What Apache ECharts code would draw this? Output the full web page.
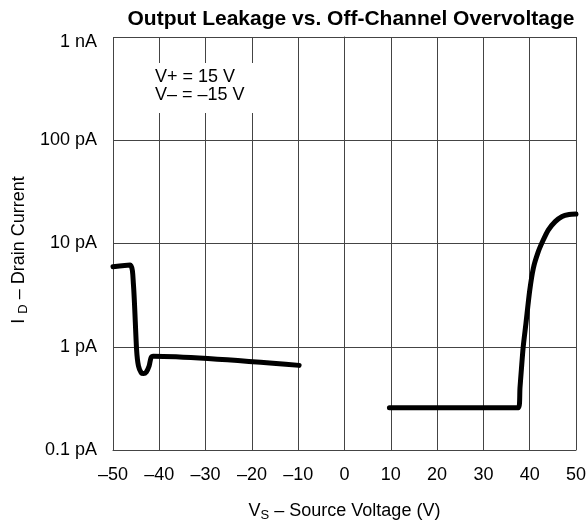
<!DOCTYPE html>
<html>
<head>
<meta charset="utf-8">
<script src="https://cdn.jsdelivr.net/npm/echarts@6/dist/echarts.min.js"></script>
<style>
  html, body { margin: 0; padding: 0; background: #fff; }
  #chart { width: 587px; height: 525px; }
</style>
</head>
<body>
<div id="chart"></div>
<script>
// x ticks (V) and y decade ticks (pA)
const xTicks = [-50, -40, -30, -20, -10, 0, 10, 20, 30, 40, 50];
const yTicks = [0.1, 1, 10, 100, 1000];
const yTickLabels = ["0.1 pA", "1 pA", "10 pA", "100 pA", "1 nA"];

// left branch: [source voltage V, drain current pA]
const leftCurve = [
  [-50, 5.96], [-46.3, 6.2], [-45.6, 4.1], [-44.9, 0.93], [-44.5, 0.65],
  [-43.9, 0.56], [-43.4, 0.55], [-42.8, 0.57], [-42.2, 0.65], [-41.8, 0.78],
  [-41.3, 0.81], [-9.8, 0.66]
];
// right branch
const rightCurve = [
  [9.7, 0.257], [37.6, 0.257], [37.9, 0.4], [38.2, 0.6], [38.6, 1.0],
  [39.2, 1.7], [40.0, 3.5], [40.8, 5.8], [41.8, 8.2], [42.8, 10.5],
  [44.0, 13.5], [45.5, 16.3], [47.0, 18.3], [48.5, 19.1], [50, 19.3]
];

const FONT = "'Liberation Sans', Arial, sans-serif";
const gridColor = "#444";
const subRich = {
  n: { fontSize: 18, fontFamily: FONT, color: "#000" },
  s: { fontSize: 13, fontFamily: FONT, color: "#000", verticalAlign: "bottom", padding: [9, 0, 0, 0] }
};

const chart = echarts.init(document.getElementById("chart"));
chart.setOption({
  animation: false,
  textStyle: { fontFamily: FONT },
  title: {
    text: "Output Leakage vs. Off-Channel Overvoltage",
    left: 346, top: 4, textAlign: "center",
    textStyle: { fontFamily: FONT, fontSize: 21, fontWeight: "bold", color: "#000" }
  },
  grid: { left: 113, right: 11, top: 37, bottom: 75, containLabel: false, outerBoundsMode: "none" },
  xAxis: {
    type: "value", min: -50, max: 50, interval: 10,
    axisLine: { show: true, lineStyle: { color: gridColor, width: 1 } },
    axisTick: { show: false },
    splitLine: { show: true, lineStyle: { color: gridColor, width: 1 } },
    axisLabel: {
      margin: 16, color: "#000", fontSize: 18, fontFamily: FONT,
      formatter: v => String(v).replace("-", "\u2013")
    },
    name: "{n|V}{s|S}{n| \u2013 Source Voltage (V)}",
    nameLocation: "middle", nameGap: 50,
    nameTextStyle: { rich: subRich }
  },
  yAxis: {
    type: "log", logBase: 10, min: 0.1, max: 1000,
    axisLine: { show: true, lineStyle: { color: gridColor, width: 1 } },
    axisTick: { show: false },
    splitLine: { show: true, lineStyle: { color: gridColor, width: 1 } },
    axisLabel: {
      margin: 16, color: "#000", fontSize: 18, fontFamily: FONT,
      formatter: v => {
        const i = yTicks.findIndex(t => Math.abs(t - v) / t < 1e-6);
        if (i < 0) return "";
        return i === yTicks.length - 1 ? "{top|" + yTickLabels[i] + "}" : yTickLabels[i];
      },
      rich: { top: { fontSize: 18, fontFamily: FONT, color: "#000", padding: [11, 0, 0, 0] } }
    }
  },
  graphic: [
    { type: "rect", shape: { x: 150, y: 63, width: 108, height: 50 }, style: { fill: "#fff" }, z: 10 },
    {
      type: "text", left: 155, top: 68, z: 11,
      style: { text: "V+ = 15 V\nV\u2013 = \u201315 V", font: "18px " + FONT, fill: "#000", lineHeight: 18 }
    },
    {
      type: "text", x: 19, y: 250, rotation: Math.PI / 2, z: 11,
      style: {
        text: "{n|I }{s|D}{n| \u2013 Drain Current}",
        rich: subRich, align: "center", verticalAlign: "middle"
      }
    }
  ],
  series: [
    {
      type: "line", data: leftCurve, showSymbol: false, smooth: 0.25,
      lineStyle: { color: "#000", width: 5, cap: "round", join: "round" }
    },
    {
      type: "line", data: rightCurve, showSymbol: false, smooth: 0.25,
      lineStyle: { color: "#000", width: 5, cap: "round", join: "round" }
    }
  ]
});
</script>
</body>
</html>
